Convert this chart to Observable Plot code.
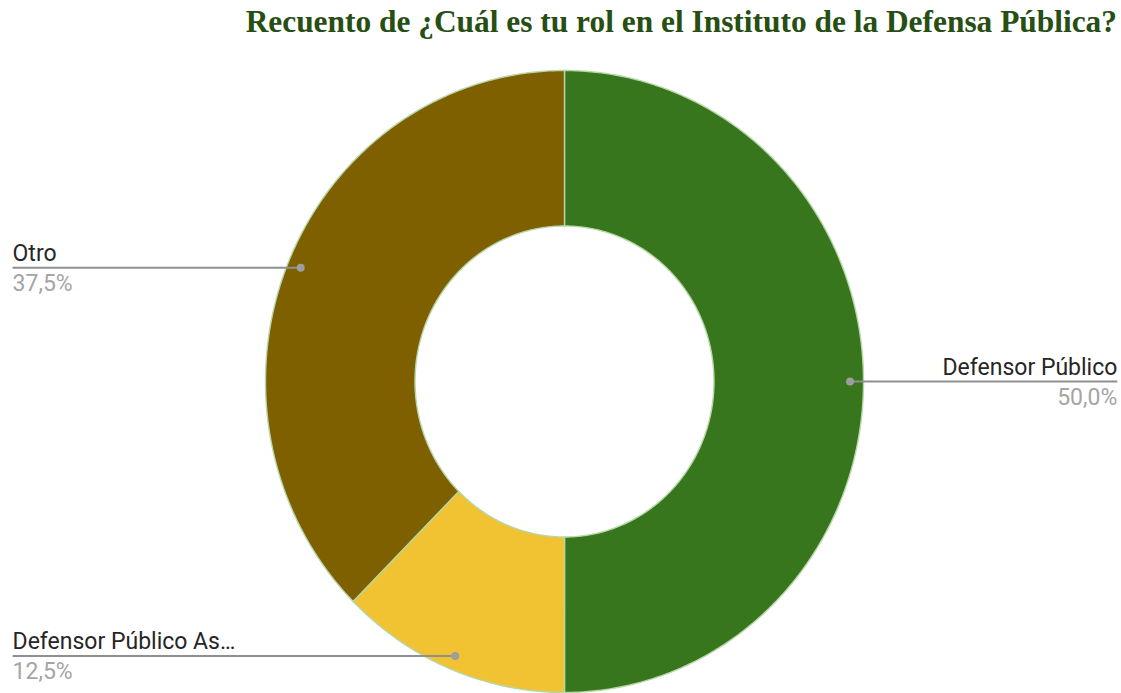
<!DOCTYPE html>
<html>
<head>
<meta charset="utf-8">
<script src="https://cdn.jsdelivr.net/npm/d3@7"></script>
<script src="https://cdn.jsdelivr.net/npm/@observablehq/plot@0.6"></script>
<style>
  html, body { margin: 0; padding: 0; background: #fff; }
  #wrap { position: relative; width: 1121px; height: 693px; overflow: hidden; }
  #title {
    position: absolute; top: 4px; right: 4px;
    font-family: "Liberation Serif", "Times New Roman", serif;
    font-weight: bold; font-size: 31.4px; color: #274e13; white-space: nowrap;
  }
  #chart { position: absolute; top: 0; left: 0; }
</style>
</head>
<body>
<div id="wrap">
  <div id="chart"></div>
  <div id="title">Recuento de ¿Cuál es tu rol en el Instituto de la Defensa Pública?</div>
</div>
<script>
const names = ["Defensor Público", "Defensor Público As…", "Otro"];
const shares = [50.0, 12.5, 37.5];
const percentLabels = ["50,0%", "12,5%", "37,5%"];
const colors = ["#38761d", "#f1c232", "#7f6000"];

const innerRatio = 0.5;
const dotRatio = 0.955;
const leftEdge = -1.846, rightEdge = 1.849;

const total = d3.sum(shares);
let acc = 0;
const slices = names.map((name, i) => {
  const a0 = acc / total * 2 * Math.PI;
  acc += shares[i];
  const a1 = acc / total * 2 * Math.PI;
  return {name, value: shares[i], label: percentLabels[i], a0, a1, mid: (a0 + a1) / 2};
});

// polygon outline for each slice (outer arc then inner arc back)
const outline = [];
for (const s of slices) {
  const n = Math.max(8, Math.ceil((s.a1 - s.a0) / (Math.PI / 360)));
  for (let k = 0; k <= n; k++) {
    const a = s.a0 + (s.a1 - s.a0) * k / n;
    outline.push({name: s.name, x: Math.sin(a), y: Math.cos(a)});
  }
  for (let k = n; k >= 0; k--) {
    const a = s.a0 + (s.a1 - s.a0) * k / n;
    outline.push({name: s.name, x: innerRatio * Math.sin(a), y: innerRatio * Math.cos(a)});
  }
}

const labels = slices.map(s => {
  const px = dotRatio * Math.sin(s.mid), py = dotRatio * Math.cos(s.mid);
  const right = Math.sin(s.mid) >= 0;
  return {...s, px, py, right, ex: right ? rightEdge : leftEdge};
});
const rightLabels = labels.filter(d => d.right);
const leftLabels = labels.filter(d => !d.right);

const font = "Roboto, 'Noto Sans', sans-serif";

const plot = Plot.plot({
  width: 1121,
  height: 693,
  x: {domain: [-1, 1], range: [265, 863], axis: null},
  y: {domain: [-1, 1], range: [692, 70], axis: null},
  color: {domain: names, range: colors},
  style: {fontFamily: font, background: "white"},
  marks: [
    Plot.line(outline, {x: "x", y: "y", z: "name", fill: "name", stroke: "#b6d7a8", strokeWidth: 1.4, curve: "linear-closed"}),
    Plot.link(labels, {x1: "px", y1: "py", x2: "ex", y2: "py", stroke: "#8f8f8f", strokeWidth: 2}),
    Plot.dot(labels, {x: "px", y: "py", r: 4, fill: "#9e9e9e", stroke: "none"}),
    Plot.text(rightLabels, {x: "ex", y: "py", text: "name", textAnchor: "end", lineAnchor: "bottom", dy: -7, fontSize: 23, fill: "#262626"}),
    Plot.text(rightLabels, {x: "ex", y: "py", text: "label", textAnchor: "end", lineAnchor: "bottom", dy: 23, fontSize: 23, fill: "#a5a5a5"}),
    Plot.text(leftLabels, {x: "ex", y: "py", text: "name", textAnchor: "start", lineAnchor: "bottom", dy: -7, fontSize: 23, fill: "#262626"}),
    Plot.text(leftLabels, {x: "ex", y: "py", text: "label", textAnchor: "start", lineAnchor: "bottom", dy: 23, fontSize: 23, fill: "#a5a5a5"})
  ]
});
document.getElementById("chart").appendChild(plot);
</script>
</body>
</html>
